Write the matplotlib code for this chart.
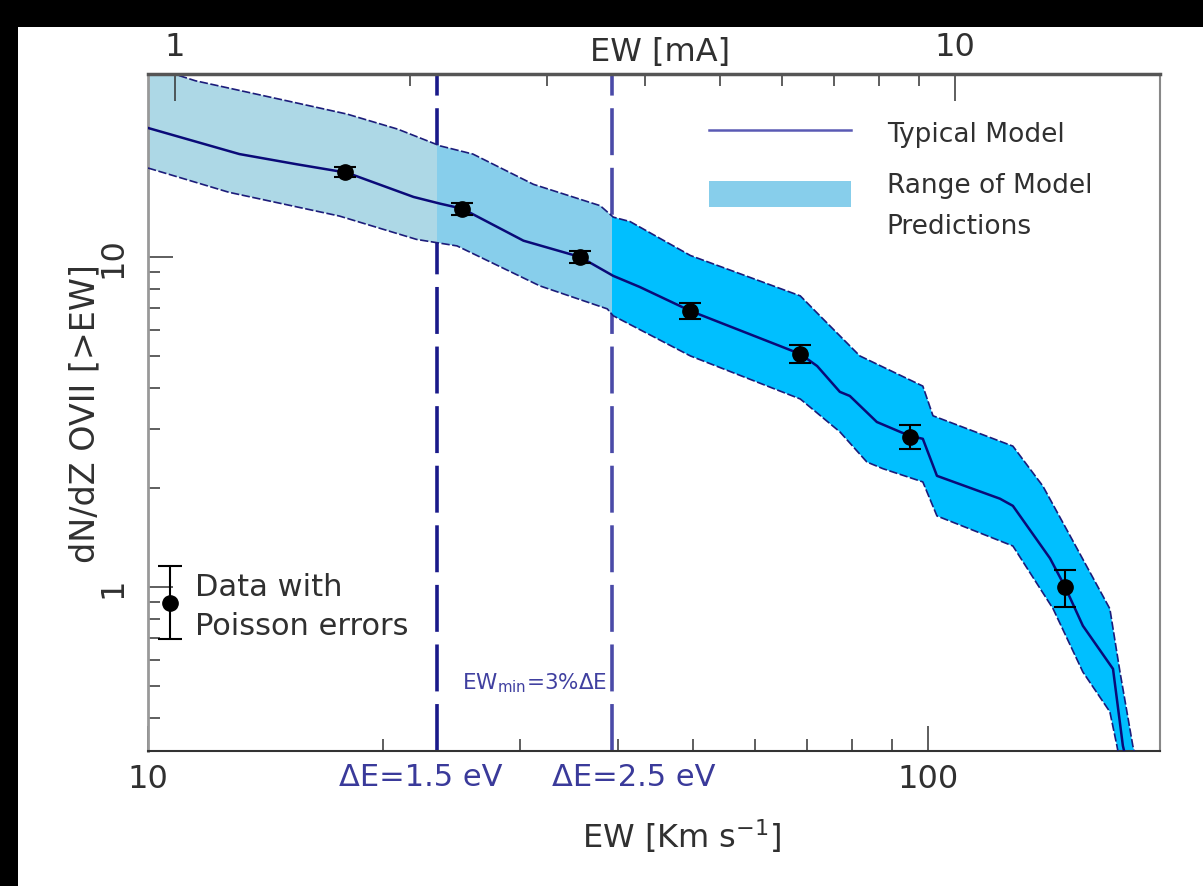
import numpy as np
import matplotlib.pyplot as plt
from matplotlib import ticker
from matplotlib.lines import Line2D
from matplotlib.patches import Patch, Rectangle
from matplotlib.transforms import blended_transform_factory

# typical model: EW [km/s] vs dN/dz(>EW)
model_ew = [10.0, 13.1, 15.5, 18.0, 21.9, 23.7, 25.3, 30.3, 35.8, 39.5, 42.7, 49.6,
            68.6, 72.1, 77.1, 79.4, 86.0, 92.1, 94.8, 98.5, 102.7, 123.7, 128.5,
            143.4, 149.9, 158.0, 172.7, 177.8, 179.5]
model_dn = [24.6, 20.5, 19.1, 18.0, 15.2, 14.5, 14.0, 11.2, 10.0, 8.76, 8.11, 6.86,
            5.08, 4.67, 3.90, 3.79, 3.16, 2.95, 2.87, 2.81, 2.17, 1.85, 1.76,
            1.22, 1.0, 0.762, 0.564, 0.330, 0.30]

# range of model predictions (upper / lower envelope)
up_ew = [10.0, 11.5, 15.3, 18.0, 20.9, 23.7, 26.1, 31.2, 38.0, 39.5, 41.5, 49.6,
         68.6, 72.7, 81.8, 98.5, 101.5, 128.5, 140.4, 152.1, 171.1, 176.3, 183.1, 185.0]
up_dn = [38.0, 34.2, 29.5, 27.1, 24.4, 21.7, 20.5, 16.6, 14.3, 13.2, 12.8, 10.1,
         7.62, 6.63, 5.01, 4.06, 3.30, 2.67, 2.02, 1.43, 0.858, 0.552, 0.330, 0.30]
lo_ew = [10.0, 12.7, 17.6, 22.1, 24.9, 31.8, 38.8, 39.5, 49.6, 68.6, 77.1, 83.5,
         87.6, 98.5, 102.7, 128.5, 144.7, 158.0, 171.1, 174.7, 176.0]
lo_dn = [18.6, 15.7, 13.3, 11.3, 10.8, 8.17, 6.96, 6.63, 5.01, 3.71, 2.95, 2.39,
         2.28, 2.08, 1.64, 1.33, 0.858, 0.552, 0.418, 0.330, 0.30]

# data with Poisson errors
obs_ew = [17.9, 25.3, 35.8, 49.6, 68.6, 94.8, 149.9]
obs_dn = [18.1, 13.98, 10.0, 6.86, 5.08, 2.85, 1.0]
obs_hi = [0.64, 0.59, 0.43, 0.39, 0.33, 0.25, 0.126]
obs_lo = [0.62, 0.57, 0.41, 0.37, 0.31, 0.23, 0.130]

# key point for the "Data with Poisson errors" note
key_ew, key_dn, key_lo, key_hi = 10.67, 0.894, 0.20, 0.26

# detector resolution limits
res_ew = [23.5, 39.4]
res_lbl = ['ΔE=1.5 eV', 'ΔE=2.5 eV']
res_lbl_x = [22.4, 41.9]
res_col = ['#1a1a8a', '#4a4aa8']

band_cols = ['#add8e6', '#87ceeb', '#00bfff']
kms_per_mA = 10.83
xlim = (10, 198.4)
ylim = (0.318, 35.85)

txt = '#303030'
fig = plt.figure(figsize=(12.03, 8.87), dpi=100, facecolor='black')
fig.add_artist(Rectangle((18 / 1203, 0), 1, (887 - 28) / 887, transform=fig.transFigure,
                         facecolor='white', edgecolor='none', zorder=-5))
ax = fig.add_axes([148 / 1203, 1 - 752 / 887, 1012 / 1203, 677 / 887])
ax.set_xscale('log')
ax.set_yscale('log')
ax.set_xlim(*xlim)
ax.set_ylim(*ylim)

# resolution lines (under the band)
for xv, c in zip(res_ew, res_col):
    ax.axvline(xv, color=c, lw=2.6, dashes=(13, 3.5), zorder=1)

# model band, coloured by resolution regime
poly_x = list(up_ew) + list(lo_ew[::-1])
poly_y = list(up_dn) + list(lo_dn[::-1])
edges = [xlim[0]] + res_ew + [xlim[1]]
for i, col in enumerate(band_cols):
    p, = ax.fill(poly_x, poly_y, color=col, lw=0, zorder=2)
    clip = Rectangle((edges[i], ylim[0]), edges[i + 1] - edges[i], ylim[1] - ylim[0],
                     transform=ax.transData)
    p.set_clip_path(clip)
ax.plot(up_ew, up_dn, color='#1c1c7a', lw=1.2, ls=(0, (5, 1.5)), zorder=3)
ax.plot(lo_ew, lo_dn, color='#1c1c7a', lw=1.2, ls=(0, (5, 1.5)), zorder=3)
ax.plot(model_ew, model_dn, color='#0a0a78', lw=1.8, zorder=4)

ax.errorbar(obs_ew, obs_dn, yerr=[obs_lo, obs_hi], fmt='o', color='black', ms=11,
            capsize=8, elinewidth=1.5, capthick=1.5, zorder=5)
ax.errorbar([key_ew], [key_dn], yerr=[[key_lo], [key_hi]], fmt='o', color='black', ms=11,
            capsize=8.6, elinewidth=1.5, capthick=1.5, zorder=5, clip_on=False)
ax.text(11.49, 0.873, 'Data with\nPoisson errors', fontsize=22, color=txt,
        ha='left', va='center', linespacing=1.42, zorder=6)
ax.text(31.26, 0.515, r'EW$_{\rm min}$=3%ΔE', fontsize=15.5, color='#4040a0',
        ha='center', va='center', zorder=6)

trans = blended_transform_factory(ax.transData, ax.transAxes)
for xv, lbl in zip(res_lbl_x, res_lbl):
    ax.text(xv, -0.038, lbl, transform=trans, fontsize=22, color='#3a3a9a',
            ha='center', va='center')

# axes styling
fmt = ticker.FormatStrFormatter('%g')
ax.xaxis.set_major_formatter(fmt)
ax.yaxis.set_major_formatter(fmt)
ax.xaxis.set_minor_formatter(ticker.NullFormatter())
ax.yaxis.set_minor_formatter(ticker.NullFormatter())
ax.tick_params(which='both', direction='in', top=False, right=False, color='#333333')
ax.tick_params(which='major', length=18, width=1.1, labelsize=23, labelcolor=txt)
ax.tick_params(which='minor', length=8.6, width=1.1)
ax.tick_params(axis='x', pad=9)
ax.tick_params(axis='y', labelrotation=90, pad=14)
for lbl in ax.get_yticklabels():
    lbl.set_va('center')
ax.set_xlabel('EW [Km s$^{-1}$]', fontsize=23, color=txt)
ax.xaxis.set_label_coords(0.527, -0.097)
ax.set_ylabel('dN/dZ OVII [>EW]', fontsize=24, color=txt)
ax.yaxis.set_label_coords(-0.046, 0.5)
ax.spines['left'].set_color('#999999')
ax.spines['left'].set_linewidth(2)
ax.spines['bottom'].set_color('#333333')
ax.spines['bottom'].set_linewidth(1.5)
ax.spines['right'].set_color('#888888')
ax.spines['right'].set_linewidth(1.5)
ax.spines['top'].set_visible(False)

# top axis in mA
ax2 = ax.twiny()
ax2.set_xscale('log')
ax2.set_xlim(xlim[0] / kms_per_mA, xlim[1] / kms_per_mA)
ax2.xaxis.set_major_formatter(fmt)
ax2.xaxis.set_minor_formatter(ticker.NullFormatter())
ax2.tick_params(which='both', direction='in', color='#333333')
ax2.tick_params(which='major', length=19.5, width=1.1, labelsize=23, labelcolor=txt, pad=9)
ax2.tick_params(which='minor', length=8.6, width=1.1)
ax2.set_xlabel('EW [mA]', fontsize=23, color=txt)
ax2.xaxis.set_label_coords(0.506, 1.02)
for s in ['left', 'right', 'bottom']:
    ax2.spines[s].set_visible(False)
ax2.spines['top'].set_color('#555555')
ax2.spines['top'].set_linewidth(2.5)

handles = [Line2D([], [], color='#5a5ab4', lw=1.8),
           Patch(facecolor=band_cols[1], edgecolor='none')]
leg = ax2.legend(handles, ['Typical Model', 'Range of Model\nPredictions'],
                 loc='upper left', bbox_to_anchor=(0.554, 0.9336), frameon=False,
                 fontsize=19, handlelength=5.4, handleheight=1.15, handletextpad=1.35,
                 borderpad=0, borderaxespad=0, labelspacing=0.95)
for t in leg.get_texts():
    t.set_color(txt)
    t.set_linespacing(1.75)
leg.legend_handles[1].set_y(leg.legend_handles[1].get_y() + 9)

fig.savefig('out.png', dpi=100, facecolor=fig.get_facecolor())
